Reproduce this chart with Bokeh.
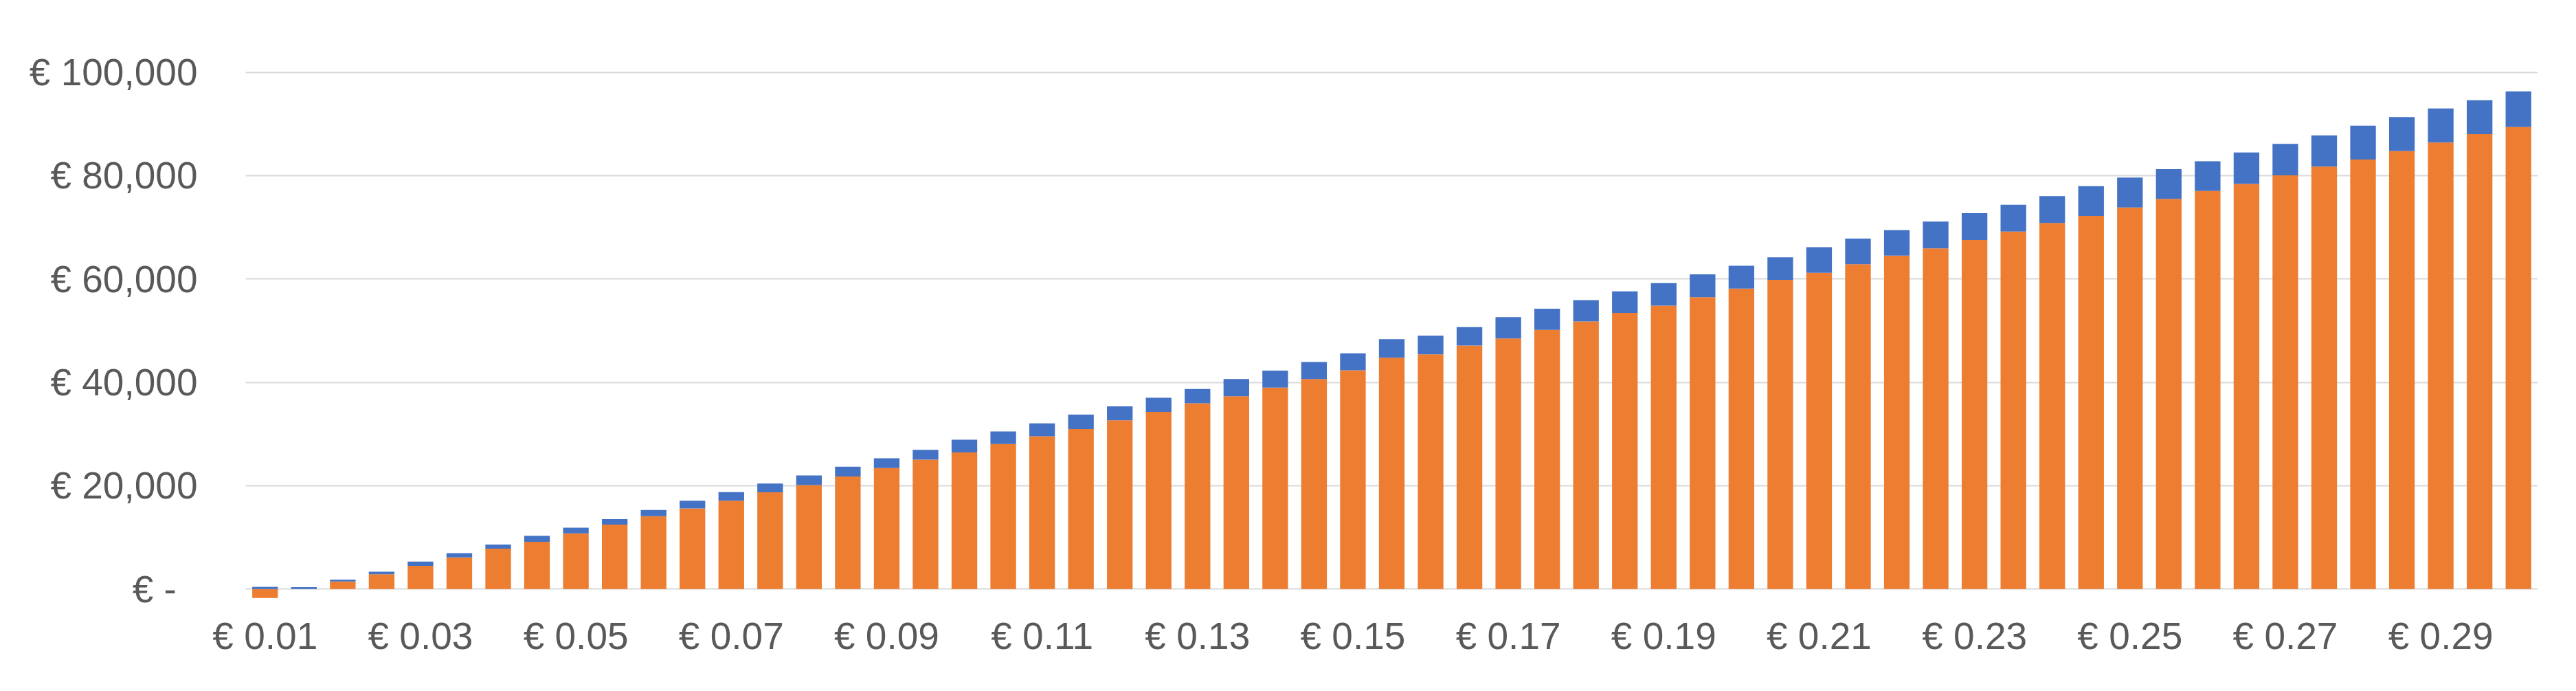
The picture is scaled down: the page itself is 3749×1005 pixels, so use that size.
from bokeh.plotting import figure
from bokeh.models import Range1d, FixedTicker, ColumnDataSource
from bokeh.embed import file_html
from bokeh.resources import INLINE
import numpy as np

# ---- data -------------------------------------------------------------
prices = [0.010, 0.015, 0.020, 0.025, 0.030, 0.035, 0.040, 0.045, 0.050, 0.055,
          0.060, 0.065, 0.070, 0.075, 0.080, 0.085, 0.090, 0.095, 0.100, 0.105,
          0.110, 0.115, 0.120, 0.125, 0.130, 0.135, 0.140, 0.145, 0.150, 0.155,
          0.160, 0.165, 0.170, 0.175, 0.180, 0.185, 0.190, 0.195, 0.200, 0.205,
          0.210, 0.215, 0.220, 0.225, 0.230, 0.235, 0.240, 0.245, 0.250, 0.255,
          0.260, 0.265, 0.270, 0.275, 0.280, 0.285, 0.290, 0.295, 0.300]

orange_values = [-1750, 0, 1450, 2840, 4480, 6120, 7800, 9140, 10780, 12460,
                 14100, 15600, 17080, 18720, 20130, 21770, 23410, 25040, 26420, 28050,
                 29560, 30950, 32640, 34290, 35940, 37320, 38970, 40620, 42320, 44770,
                 45410, 47110, 48490, 50140, 51790, 53440, 54830, 56480, 58130, 59820,
                 61200, 62840, 64520, 65900, 67540, 69180, 70820, 72200, 73840, 75480,
                 77030, 78400, 80040, 81730, 83100, 84750, 86390, 88030, 89400]

blue_values = [420, 350, 380, 530, 840, 840, 800, 1150, 1100, 1070,
               1200, 1480, 1680, 1680, 1860, 1900, 1900, 1910, 2470, 2440,
               2500, 2810, 2720, 2720, 2770, 3300, 3300, 3310, 3260, 3570,
               3620, 3570, 4110, 4110, 4110, 4150, 4370, 4410, 4410, 4370,
               4960, 4960, 4930, 5190, 5190, 5190, 5190, 5760, 5760, 5760,
               5760, 6080, 6080, 6030, 6570, 6560, 6600, 6560, 6870]

y_ticks = [0, 20000, 40000, 60000, 80000, 100000]
y_tick_labels = ["€ -\u00a0\u00a0", "€ 20,000", "€ 40,000", "€ 60,000", "€ 80,000", "€ 100,000"]
x_label_step = 4

# ---- derived stacking ------------------------------------------------------
idx = np.arange(len(prices))
orange = np.array(orange_values, dtype=float)
blue = np.array(blue_values, dtype=float)
blue_bottom = np.maximum(orange, 0)
src = ColumnDataSource(dict(
    x=idx,
    o_bottom=np.zeros(len(prices)),
    o_top=orange,
    b_bottom=blue_bottom,
    b_top=blue_bottom + blue,
))

FONT = "Liberation Sans"
TXT = "#595959"

p = figure(width=3733, height=989, output_backend="svg", toolbar_location=None,
           x_range=Range1d(-0.5, len(prices) - 0.5), y_range=Range1d(-2500, 101000),
           min_border_left=357, min_border_right=40, min_border_top=97, min_border_bottom=114)
p.background_fill_color = "white"
p.border_fill_color = "white"
p.outline_line_color = None

p.vbar(x="x", bottom="o_bottom", top="o_top", width=0.66, source=src,
       fill_color="#ED7D31", line_color=None)
p.vbar(x="x", bottom="b_bottom", top="b_top", width=0.66, source=src,
       fill_color="#4472C4", line_color=None)

# y axis
p.yaxis.ticker = FixedTicker(ticks=y_ticks)
p.yaxis.major_label_overrides = {t: l for t, l in zip(y_ticks, y_tick_labels)}
p.yaxis.axis_line_color = None
p.yaxis.major_tick_line_color = None
p.yaxis.minor_tick_line_color = None
p.yaxis.major_tick_in = 0
p.yaxis.major_tick_out = 0
p.yaxis.major_label_standoff = 70
p.yaxis.major_label_text_font = FONT
p.yaxis.major_label_text_font_size = "55px"
p.yaxis.major_label_text_color = TXT

# x axis
xt = list(range(0, len(prices), x_label_step))
p.xaxis.ticker = FixedTicker(ticks=xt)
p.xaxis.major_label_overrides = {i: f"€ {prices[i]:.2f}" for i in xt}
p.xaxis.axis_line_color = None
p.xaxis.major_tick_line_color = None
p.xaxis.minor_tick_line_color = None
p.xaxis.major_tick_in = 0
p.xaxis.major_tick_out = 0
p.xaxis.major_label_standoff = 18
p.xaxis.major_label_text_font = FONT
p.xaxis.major_label_text_font_size = "55px"
p.xaxis.major_label_text_color = TXT

# grid
p.xgrid.grid_line_color = None
p.ygrid.ticker = FixedTicker(ticks=y_ticks)
p.ygrid.grid_line_color = "#D9D9D9"
p.ygrid.grid_line_width = 2
p.ygrid.level = "underlay"

open("out.html", "w").write(file_html(p, INLINE))
